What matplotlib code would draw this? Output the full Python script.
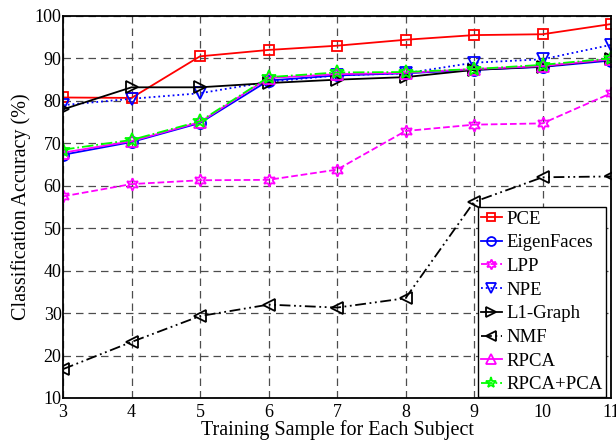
import numpy as np
import matplotlib.pyplot as plt

plt.rcParams['font.family'] = ['Liberation Serif', 'DejaVu Serif']

samples = [3, 4, 5, 6, 7, 8, 9, 10, 11]
pce = [80.8, 80.7, 90.5, 92.0, 93.0, 94.4, 95.5, 95.7, 98.1]
eigenfaces = [67.3, 70.3, 74.8, 84.8, 86.0, 86.5, 87.3, 88.0, 89.5]
lpp = [57.5, 60.4, 61.3, 61.4, 63.8, 72.9, 74.4, 74.7, 81.8]
npe = [79.0, 80.5, 81.8, 84.5, 86.0, 86.5, 89.0, 89.8, 93.2]
l1graph = [78.0, 83.2, 83.2, 84.2, 85.0, 85.6, 87.3, 88.1, 89.8]
nmf = [16.8, 23.2, 29.3, 32.0, 31.3, 33.5, 56.2, 62.0, 62.2]
rpca = [67.8, 70.5, 75.0, 85.4, 86.3, 86.6, 87.5, 88.2, 89.8]
rpca_pca = [68.5, 70.8, 75.2, 85.6, 86.7, 86.8, 87.5, 88.5, 90.0]

fig = plt.figure(figsize=(6.16, 4.41), dpi=100)
ax = fig.add_axes([63/616, 43/441, 548/616, 382/441])

magenta = '#ff00ff'
green = '#00ff00'
series = [
    ('PCE', pce, 'r', '-', 's', 7),
    ('EigenFaces', eigenfaces, 'b', '-', 'o', 8),
    ('LPP', lpp, magenta, '--', (6, 1, 0), 9),
    ('NPE', npe, 'b', ':', 'v', 8.5),
    ('L1-Graph', l1graph, 'k', '-', '>', 8.5),
    ('NMF', nmf, 'k', (0, (6, 2, 1, 2, 1, 2)), '<', 8.5),
    ('RPCA', rpca, magenta, '-', '^', 8.5),
    ('RPCA+PCA', rpca_pca, green, '-.', '*', 10),
]

for name, vals, c, ls, mk, ms in series:
    ax.plot(samples, vals, color=c, linestyle=ls, marker=mk, markersize=ms,
            markerfacecolor='none', markeredgecolor=c, markeredgewidth=1.3,
            linewidth=1.3, label=name)

ax.set_xlim(3, 11)
ax.set_ylim(10, 100)
ax.set_xticks(samples)
ax.set_yticks(range(10, 101, 10))
ax.grid(True, linestyle=(0, (6, 4)), color='0.3', linewidth=0.9)
ax.tick_params(direction='in', labelsize=13, length=0)
ax.tick_params(axis='x', pad=4)
ax.tick_params(axis='y', pad=1)
for s in ax.spines.values():
    s.set_linewidth(1.3)

ax.set_xlabel('Training Sample for Each Subject', fontsize=14.5, labelpad=0)
ax.set_ylabel('Classification Accuracy (%)', fontsize=14.5, labelpad=3)

leg = ax.legend(loc='lower right', bbox_to_anchor=(0.991, 0.003),
                fontsize=13.5, handlelength=1.1, handletextpad=0.25,
                borderpad=0.18, labelspacing=0.35, markerscale=0.8,
                fancybox=False, framealpha=1, edgecolor='k',
                borderaxespad=0)
leg.get_frame().set_linewidth(1.0)

plt.savefig('out.png', dpi=100)
